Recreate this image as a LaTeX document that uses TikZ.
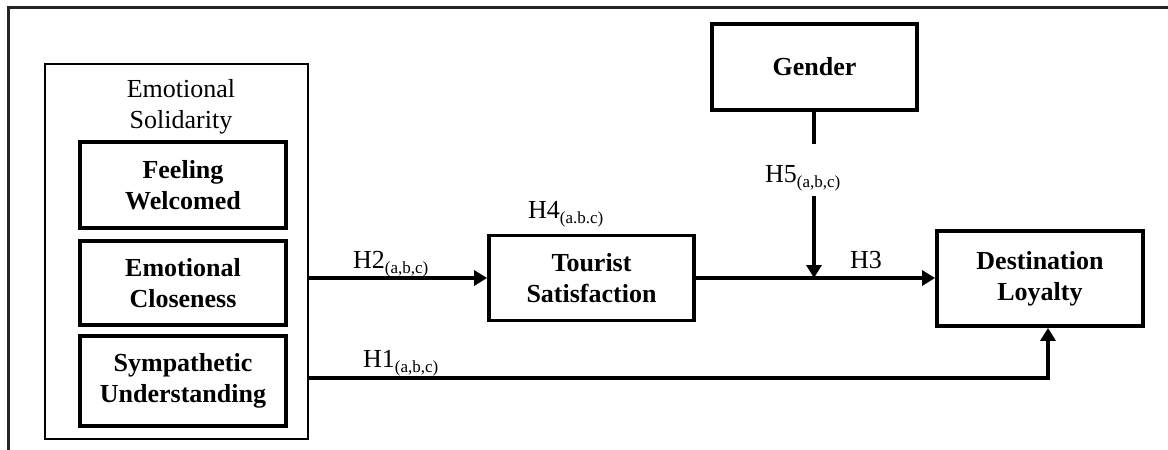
\documentclass[tikz,border=0pt]{standalone}
\usepackage{fontspec}
\setmainfont{Liberation Serif}
\usetikzlibrary{arrows.meta}
\newcommand\hsub[1]{\raisebox{-5pt}{\fontsize{17}{17}\selectfont #1}}
\begin{document}
\begin{tikzpicture}[x=1pt,y=-1pt,
  every node/.style={font=\fontsize{26}{31}\selectfont},
  var/.style={draw, line width=3.8pt, rectangle, align=center, font=\fontsize{26}{31}\selectfont\bfseries, inner sep=0pt},
  group/.style={draw, line width=2pt, rectangle, inner sep=0pt},
  lab/.style={inner sep=0pt, anchor=base west},
  arr/.style={line width=3.2pt, -{Triangle[length=13pt,width=15pt]}},
  link/.style={line width=3.2pt}]
\useasboundingbox (0,0) rectangle (1168,450);
\draw[line width=2.3pt, black!85] (1168,7.5) -| (8.5,450);
% group
\node[group, minimum width=263pt, minimum height=375pt] (es) at (176.5,251.5) {};
\node[align=center, inner sep=0pt] (title) at (181,106.5) {Emotional\\Solidarity};
\node[var, minimum width=206pt, minimum height=86pt] (fw) at (183,185) {Feeling\\Welcomed};
\node[var, minimum width=206pt, minimum height=84pt] (ec) at (183,283) {Emotional\\Closeness};
\node[var, minimum width=206pt, minimum height=90pt] (su) at (183,381) {Sympathetic\\Understanding};
% other constructs
\node[var, minimum width=205pt, minimum height=85pt] (ts) at (591.5,278) {Tourist\\Satisfaction};
\node[var, minimum width=205pt, minimum height=86pt] (gender) at (814.5,67) {Gender};
\node[var, minimum width=206pt, minimum height=95pt] (dest) at (1040,278.5) {Destination\\Loyalty};
% coordinates
\coordinate (h1c) at (1048,378);
\coordinate (h5a) at (814,144);
\coordinate (h5b) at (814,196);
\coordinate (mod) at (h5b |- ts.east);
% connectors
\draw[arr] (es.east |- ts.west) -- (ts.west);
\draw[arr] (ts.east) -- (ts.east -| dest.west);
\draw[arr] (es.east |- h1c) -| (dest.south -| h1c);
\draw[link] (gender.south -| h5a) -- (h5a);
\draw[arr] (h5b) -- (mod);
% labels
\node[lab] (lh2) at (353,268) {H2\hsub{(a,b,c)}};
\node[lab] (lh4) at (528,218) {H4\hsub{(a.b.c)}};
\node[lab] (lh1) at (363,367) {H1\hsub{(a,b,c)}};
\node[lab] (lh5) at (765,182) {H5\hsub{(a,b,c)}};
\node[lab] (lh3) at (850,268) {H3};
\end{tikzpicture}
\end{document}
